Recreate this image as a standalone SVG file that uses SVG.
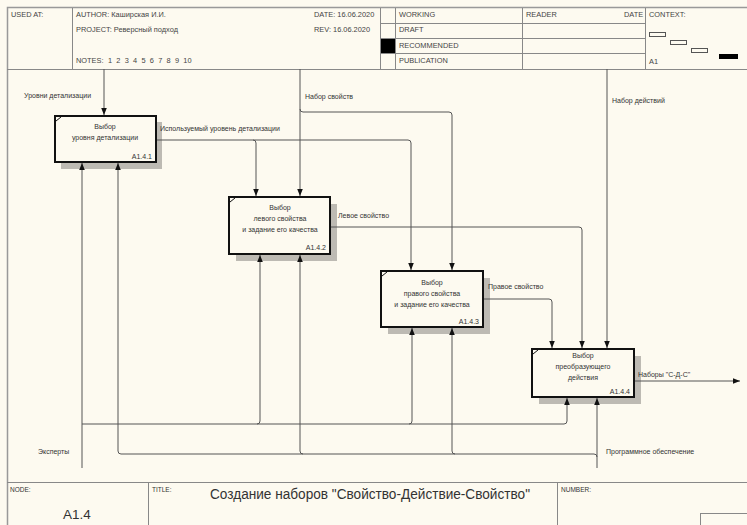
<svg xmlns="http://www.w3.org/2000/svg" width="747" height="525" viewBox="0 0 747 525">
<defs>
<marker id="ah" viewBox="0 0 8 8" refX="8" refY="4" markerWidth="7" markerHeight="7" markerUnits="userSpaceOnUse" orient="auto">
<path d="M0,0.8 L8,4 L0,7.2 Z" fill="#111"/>
</marker>
<style>
text{font-family:"Liberation Sans",Arial,sans-serif;fill:#333}
.s{font-size:7px}
.h{font-size:7.4px;fill:#444}
.bx{fill:#fdfaf0;stroke:#111;stroke-width:2}
.sh{fill:#bdbab3}
.fr{fill:none;stroke:#888;stroke-width:1}
.ca{fill:none;stroke:#555;stroke-width:1;marker-end:url(#ah)}
</style>
</defs>
<rect x="0" y="0" width="747" height="525" fill="#fdfaf0"/>
<g id="frame">
<rect x="7.5" y="7.5" width="745" height="520" fill="none" stroke="#999" stroke-width="1.5"/>
<line class="fr" x1="7" y1="69.5" x2="747" y2="69.5"/>
<line class="fr" x1="72.5" y1="8" x2="72.5" y2="69"/>
<line class="fr" x1="380.5" y1="8" x2="380.5" y2="69"/>
<line class="fr" x1="395.5" y1="8" x2="395.5" y2="69"/>
<line class="fr" x1="522.5" y1="8" x2="522.5" y2="69"/>
<line class="fr" x1="645.5" y1="8" x2="645.5" y2="69"/>
<line class="fr" x1="380" y1="23.5" x2="645" y2="23.5"/>
<line class="fr" x1="380" y1="38.5" x2="645" y2="38.5"/>
<line class="fr" x1="380" y1="53.5" x2="645" y2="53.5"/>
<rect x="381" y="39" width="14" height="14" fill="#000"/>
<text class="h" x="11" y="17">USED AT:</text>
<text class="h" x="76" y="17">AUTHOR:  Каширская И.И.</text>
<text class="h" x="76" y="32">PROJECT:  Реверсный подход</text>
<text class="h" x="76" y="63">NOTES:</text>
<text class="h" x="108" y="63" style="word-spacing:2.2px">1 2 3 4 5 6 7 8 9 10</text>
<text class="h" x="314" y="17">DATE:  16.06.2020</text>
<text class="h" x="314" y="32">REV:    16.06.2020</text>
<text class="h" x="399" y="17">WORKING</text>
<text class="h" x="399" y="32">DRAFT</text>
<text class="h" x="399" y="48">RECOMMENDED</text>
<text class="h" x="399" y="63">PUBLICATION</text>
<text class="h" x="526" y="17">READER</text>
<text class="h" x="624" y="17">DATE</text>
<text class="h" x="649" y="17">CONTEXT:</text>
<text class="h" x="649" y="64">A1</text>
<rect x="649.5" y="32.5" width="16" height="4" fill="none" stroke="#555"/>
<rect x="670.5" y="40.5" width="16" height="4" fill="none" stroke="#555"/>
<rect x="691.5" y="48.5" width="16" height="4" fill="none" stroke="#555"/>
<rect x="719" y="54" width="19" height="5" fill="#000"/>
<line class="fr" x1="7" y1="482.5" x2="747" y2="482.5"/>
<line class="fr" x1="148.5" y1="482" x2="148.5" y2="525"/>
<line class="fr" x1="557.5" y1="482" x2="557.5" y2="525"/>
<rect x="700.5" y="513.5" width="50" height="14" fill="none" stroke="#888"/>
<text class="s" x="10" y="492" style="font-size:6.5px">NODE:</text>
<text class="s" x="152" y="492" style="font-size:6.5px">TITLE:</text>
<text class="s" x="561" y="492" style="font-size:6.5px">NUMBER:</text>
<text x="63" y="519" style="font-size:13.5px">A1.4</text>
<text x="210" y="499" style="font-size:14px" textLength="320" lengthAdjust="spacingAndGlyphs">Создание наборов  "Свойство-Действие-Свойство"</text>
</g>
<g id="A1.4.1">
<rect class="sh" x="61" y="122" width="101" height="47"/>
<rect class="bx" x="55" y="116" width="101" height="46"/>
<path d="M56,121 L61,117" stroke="#111" stroke-width="1"/>
<text class="s" x="105" y="129" text-anchor="middle">Выбор</text>
<text class="s" x="105" y="140" text-anchor="middle">уровня детализации</text>
<text class="s" x="152" y="159" text-anchor="end">A1.4.1</text>
</g>
<g id="A1.4.2">
<rect class="sh" x="236" y="204" width="101" height="57"/>
<rect class="bx" x="229" y="197" width="101" height="57"/>
<path d="M230,202 L235,198" stroke="#111" stroke-width="1"/>
<text class="s" x="280" y="210" text-anchor="middle">Выбор</text>
<text class="s" x="280" y="221" text-anchor="middle">левого свойства</text>
<text class="s" x="280" y="232" text-anchor="middle">и задание его качества</text>
<text class="s" x="326" y="250" text-anchor="end">A1.4.2</text>
</g>
<g id="A1.4.3">
<rect class="sh" x="388" y="278" width="102" height="56"/>
<rect class="bx" x="381" y="271" width="102" height="56"/>
<path d="M382,276 L387,272" stroke="#111" stroke-width="1"/>
<text class="s" x="432" y="285" text-anchor="middle">Выбор</text>
<text class="s" x="432" y="296" text-anchor="middle">правого свойства</text>
<text class="s" x="432" y="307" text-anchor="middle">и задание его качества</text>
<text class="s" x="479" y="324" text-anchor="end">A1.4.3</text>
</g>
<g id="A1.4.4">
<rect class="sh" x="539" y="356" width="102" height="48"/>
<rect class="bx" x="532" y="349" width="102" height="48"/>
<path d="M533,354 L538,350" stroke="#111" stroke-width="1"/>
<text class="s" x="583" y="358" text-anchor="middle">Выбор</text>
<text class="s" x="583" y="369" text-anchor="middle">преобразующего</text>
<text class="s" x="583" y="380" text-anchor="middle">действия</text>
<text class="s" x="630" y="394" text-anchor="end">A1.4.4</text>
</g>
<g id="connectors">
<path class="ca" d="M104,69 V115"/>
<path class="ca" d="M157,140 H408 Q411,140 411,143 V270"/>
<path class="ca" d="M253,140 Q256,140 256,143 V196"/>
<path class="ca" d="M300,69 V196"/>
<path class="ca" d="M300,109 Q300,112 303,112 H449 Q452,112 452,115 V270"/>
<path class="ca" d="M331,227 H579 Q582,227 582,230 V348"/>
<path class="ca" d="M484,299 H549 Q552,299 552,302 V348"/>
<path class="ca" d="M607,69 V348"/>
<path class="ca" d="M635,381 H740"/>
<path class="ca" d="M82,468 V163"/>
<path class="ca" d="M82,424 H564 Q567,424 567,421 V398"/>
<path class="ca" d="M257,424 Q260,424 260,421 V255"/>
<path class="ca" d="M409,424 Q412,424 412,421 V328"/>
<path class="ca" d="M597,468 V398"/>
<path class="ca" d="M597,457 Q597,454 594,454 H121 Q118,454 118,451 V163"/>
<path class="ca" d="M303,454 Q300,454 300,451 V255"/>
<path class="ca" d="M455,454 Q452,454 452,451 V328"/>
<text class="s" x="24" y="98">Уровни детализации</text>
<text class="s" x="160" y="131">Используемый уровень детализации</text>
<text class="s" x="305" y="99">Набор свойств</text>
<text class="s" x="612" y="103">Набор действий</text>
<text class="s" x="338" y="218">Левое свойство</text>
<text class="s" x="488" y="289">Правое свойство</text>
<text class="s" x="638" y="377">Наборы "С-Д-С"</text>
<text class="s" x="38" y="454">Эксперты</text>
<text class="s" x="606" y="454">Программное обеспечение</text>
</g>
</svg>
